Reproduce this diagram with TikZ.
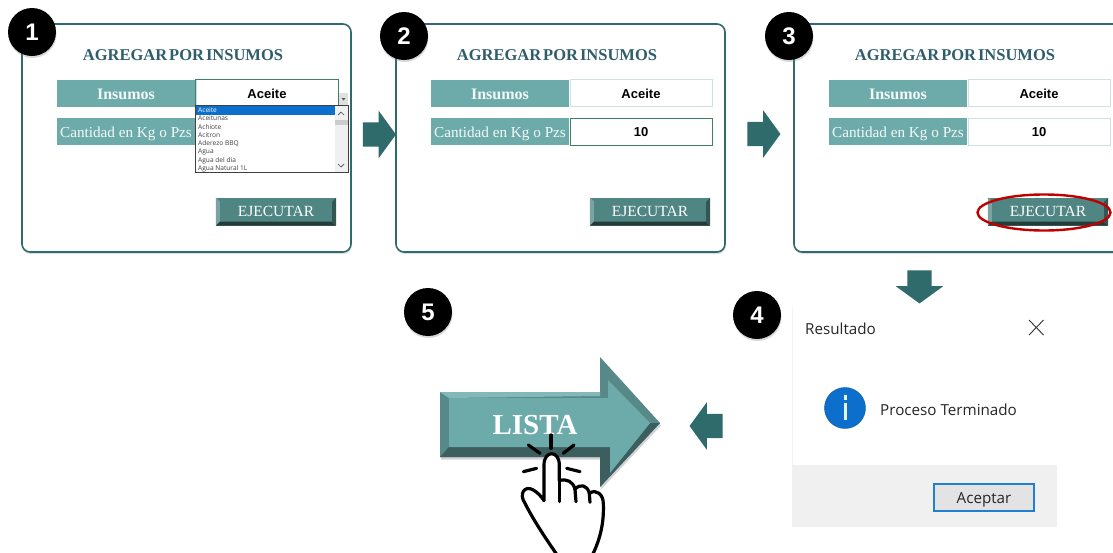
\documentclass[tikz,border=0pt]{standalone}
\usepackage{fontspec}
\setmainfont{Liberation Serif}
\newfontfamily\cellfont{Liberation Sans}
\newfontfamily\uifont{Open Sans}
\usepackage{tikz}
\usetikzlibrary{shapes.arrows, shapes.geometric, shadows}
\definecolor{tealdark}{HTML}{2F6B6B}
\definecolor{tealmid}{HTML}{6DABAB}
\definecolor{titleblue}{HTML}{2F5D6B}
\definecolor{btnface}{HTML}{4F8582}
\definecolor{winblue}{HTML}{0B6FCB}
\definecolor{framegreen}{HTML}{3F8060}
\newcommand{\titlefont}{\bfseries\fontsize{16.5}{18}\selectfont\spaceskip 2pt\relax}
\tikzstyle{panelbox} = [rectangle, rounded corners=8pt, minimum width=329pt, minimum height=228pt, inner sep=0pt, draw=tealdark, line width=1.6pt, fill=white, drop shadow={opacity=0.25, shadow xshift=0.5pt, shadow yshift=-2pt}]
\tikzstyle{badge} = [circle, minimum size=48pt, inner sep=0pt, fill=black, text=white, font=\cellfont\bfseries\fontsize{24}{24}\selectfont, drop shadow={opacity=0.3, shadow xshift=0.5pt, shadow yshift=-2pt}]
\tikzstyle{paneltitle} = [text=titleblue, font=\titlefont]
\tikzstyle{fieldlabel} = [rectangle, minimum width=138pt, minimum height=27pt, inner sep=0pt, text height=12pt, text depth=0pt, fill=tealmid, text=white!93!tealmid]
\tikzstyle{valuecell} = [rectangle, minimum width=142pt, minimum height=27pt, inner sep=0pt, text height=10.5pt, text depth=0pt, draw=tealmid!35, fill=white, font=\cellfont\bfseries\fontsize{13}{15}\selectfont]
\tikzstyle{runbutton} = [rectangle, minimum width=120pt, minimum height=28pt, inner sep=0pt, fill=btnface]
\tikzstyle{listitem} = [anchor=west, inner sep=0pt, text=black!75, font=\uifont\fontsize{6.6}{7}\selectfont]
\tikzstyle{flowarrow} = [single arrow, draw=none, fill=tealdark, inner sep=0pt, text height=12pt, text depth=12pt, minimum width=47pt, minimum height=33pt, single arrow head extend=11.5pt, single arrow tip angle=108]
\tikzstyle{dialogtext} = [inner sep=0pt, text=black!85, font=\uifont\fontsize{15.2}{17}\selectfont]
\begin{document}
\begin{tikzpicture}[x=1pt, y=-1pt]
    \clip (0,0) rectangle (1113,552);
    \fill [white] (0,0) rectangle (1113,552);
    % three form panels
    \foreach \n/\px in {1/22, 2/396, 3/794} {
        \node (panel\n) [panelbox] at (\px+164.5,138) {};
        \node (title\n) [paneltitle] at (\px+161,55) {AGREGAR POR INSUMOS};
        \node (insumos\n) [fieldlabel, font=\bfseries\fontsize{16}{17}\selectfont] at (\px+104,93) {Insumos};
        \node (cantidad\n) [fieldlabel, font=\fontsize{15.2}{17}\selectfont] at (\px+104,131) {Cantidad en Kg o Pzs};
        \node (value\n) [valuecell] at (\px+245,93) {Aceite};
        \node (run\n) [runbutton] at (\px+254,211.5) {};
        \fill [black!55!btnface] (run\n.south west) -- ++(4,-4) -- ++(112,0) -- ++(4,4) -- cycle;
        \fill [black!35!btnface] (run\n.south east) -- ++(-4,-4) -- ++(0,-20) -- ++(4,-4) -- cycle;
        \fill [white!25!btnface] (run\n.north west) -- ++(4,4) -- ++(0,20) -- ++(-4,4) -- cycle;
        \node (runtext\n) [text=white, font=\fontsize{15.5}{17}\selectfont] at (run\n) {EJECUTAR};
    }
    \node (badge1) [badge] at (32,32) {1};
    \node (badge2) [badge] at (404,36) {2};
    \node (badge3) [badge] at (789,36) {3};
    \node (badge4) [badge] at (757,315) {4};
    \node (badge5) [badge] at (428,312) {5};
    % values of panels 2 and 3
    \node (kilos2) [valuecell, draw=framegreen, line width=0.8pt] at (641,131.5) {10};
    \node (kilos3) [valuecell] at (1039,131.5) {10};
    \draw [framegreen, line width=0.8pt] (value1.south west) rectangle (value1.north east);
    % dropdown list of panel 1
    \fill [black!12] (339,93) rectangle (348,105);
    \fill [black!65] (341.5,98) -- (345.5,98) -- (343.5,100.5) -- cycle;
    \node (droplist) [rectangle, draw=black!75, line width=0.7pt, fill=white, inner sep=0pt, minimum width=153pt, minimum height=67pt] at (271.5,139) {};
    \fill [black!6] (335,106) rectangle (347.5,171.5);
    \fill [black!20] (335,120) rectangle (347.5,125);
    \fill [winblue] (196,106) rectangle (334.5,114.5);
    \draw [black!70, line width=0.7pt] (338,115) -- (341,112) -- (344,115);
    \draw [black!70, line width=0.7pt] (338,164) -- (341,167) -- (344,164);
    \node (item1) [listitem, text=white] at (198,110.3) {Aceite};
    \node (item2) [listitem] at (198,118.6) {Aceitunas};
    \node (item3) [listitem] at (198,127) {Achiote};
    \node (item4) [listitem] at (198,135.3) {Acitron};
    \node (item5) [listitem] at (198,143.6) {Aderezo BBQ};
    \node (item6) [listitem] at (198,152) {Agua};
    \node (item7) [listitem] at (198,160.3) {Agua del dia};
    \node (item8) [listitem] at (198,168.6) {Agua Natural 1L};
    % red mark round the button
    \node (mark) [ellipse, draw=red!75!black, line width=2.4pt, minimum width=133pt, minimum height=36pt, inner sep=0pt] at (1044,212.5) {};
    % arrows between the steps
    \node (step12) [flowarrow] at (375,134.5) {};
    \node (step23) [flowarrow] at (759.5,134) {};
    \node (step34) [flowarrow, shape border rotate=270, text width=24pt, text height=0pt, text depth=0pt] at (919.5,282.5) {};
    \node (step45) [flowarrow, shape border rotate=180] at (710.5,426) {};
    % result dialog
    \fill [black!5] (792,308) rectangle (793,465);
    \fill [black!6] (792,465) rectangle (1057,527);
    \node (resultado) [dialogtext, anchor=west] at (805,329) {Resultado};
    \draw [black!80, line width=0.9pt] (1029,320) -- (1043.5,335) (1043.5,320) -- (1029,335);
    \node (info) [circle, fill=winblue, draw=winblue!80!black, minimum size=41pt, inner sep=0pt] at (845,408) {};
    \fill [white!90!winblue] (843.5,395) rectangle (846.5,400);
    \fill [white!90!winblue] (843.5,403) rectangle (846.5,420);
    \node (proceso) [dialogtext, anchor=west] at (880,410) {Proceso Terminado};
    \node (aceptar) [dialogtext, rectangle, minimum width=100pt, minimum height=27pt, draw=winblue!90!white, line width=2pt, fill=black!11, text height=11pt, text depth=0pt] at (984,497.5) {Aceptar};
    % big arrow
    \fill [tealmid!80!black, drop shadow={opacity=0.35, shadow xshift=1pt, shadow yshift=-2.5pt}] (440,392) -- (600,392) -- (600,357) -- (660,423) -- (600,487) -- (600,457) -- (440,457) -- cycle;
    \fill [tealmid!55!black] (440,457) -- (449,447) -- (610,447) -- (610,473) -- (650,423) -- (660,423) -- (600,487) -- (600,457) -- cycle;
    \fill [tealmid!85!white] (440,392) -- (600,392) -- (600,396) -- (449,398) -- cycle;
    \fill [tealmid] (449,398) -- (608,398) -- (608,380) -- (650,423) -- (610,473) -- (610,447) -- (449,447) -- cycle;
    \node (lista) [text=white, font=\bfseries\fontsize{29}{31}\selectfont] at (535,425) {LISTA};
    % hand
    \begin{scope}[shift={(400,290)}, x=0.3333pt, y=-0.3333pt]
        \draw [black, fill=white, line width=3.2pt, line join=round, line cap=round] (475,800) .. controls (440,750) and (400,690) .. (375,640) .. controls (355,610) and (375,585) .. (400,600) .. controls (412,607) and (425,620) .. (432,632) -- (432,525) .. controls (432,480) and (478,480) .. (478,525) -- (478,572) .. controls (500,565) and (520,575) .. (525,598) .. controls (540,580) and (562,585) .. (568,610) .. controls (590,595) and (610,615) .. (610,640) .. controls (612,690) and (605,740) .. (575,800);
        \draw [black, line width=3.2pt, line cap=round] (478,572) -- (478,635);
        \draw [black, line width=3.2pt, line cap=round] (525,598) -- (528,635);
        \draw [black, line width=3.2pt, line cap=round] (568,610) -- (570,637);
        \foreach \ax/\ay/\bx/\by in {453/435/453/475, 385/465/420/490, 522/465/490/490, 370/545/410/535, 500/535/540/545}
            \draw [black, line width=3.2pt, line cap=round] (\ax,\ay) -- (\bx,\by);
    \end{scope}
\end{tikzpicture}
\end{document}
